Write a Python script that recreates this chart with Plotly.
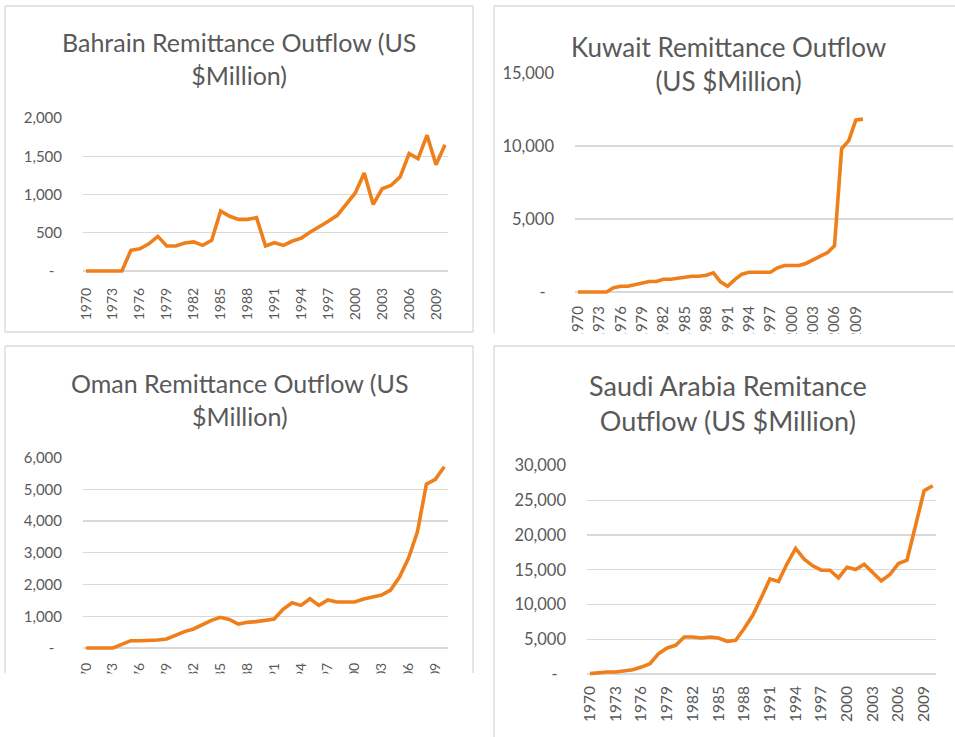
import plotly.graph_objects as go

W, H = 955, 737

years = list(range(1970, 2011))

bahrain = [0, 0, 0, 0, 0,
           270, 290, 355, 453, 327, 327, 365, 380, 335, 400,
           785, 715, 675, 675, 697, 327, 370, 335, 392, 430,
           510, 575, 650, 728, 870, 1020, 1280, 870, 1075, 1120,
           1230, 1535, 1470, 1775, 1390, 1650]

kuwait = [0, 0, 0, 0, 0,
          300, 390, 390, 505, 620, 715, 715, 875, 875, 945,
          1010, 1080, 1080, 1150, 1310, 700, 390, 850, 1220, 1355,
          1355, 1355, 1355, 1655, 1815, 1815, 1815, 1955, 2230, 2460,
          2690, 3170, 9815, 10370, 11790, 11840]

oman = [0, 0, 0, 0, 115,
        230, 230, 230, 250, 283, 400, 515, 600, 735, 870,
        965, 900, 755, 808, 830, 860, 913, 1218, 1427, 1343,
        1553, 1343, 1511, 1448, 1448, 1448, 1542, 1605, 1668, 1826,
        2235, 2823, 3662, 5163, 5310, 5708]

saudi = [50, 190, 290, 290, 430,
         620, 1000, 1490, 2930, 3750, 4130, 5330, 5330, 5190, 5330,
         5190, 4710, 4860, 6540, 8460, 11010, 13700, 13320, 15870, 18080,
         16540, 15580, 14950, 14950, 13850, 15380, 15050, 15820, 14660, 13410,
         14320, 15910, 16400, 21540, 26390, 27110]

x_tick_years = [1970, 1973, 1976, 1979, 1982, 1985, 1988, 1991, 1994, 1997, 2000, 2003, 2006, 2009]
x_tick_text = [str(y) for y in x_tick_years]

ZERO = "-\u00a0\u00a0"
bahrain_yticks = [0, 500, 1000, 1500, 2000]
bahrain_ytext = [ZERO, "500", "1,000", "1,500", "2,000"]
kuwait_yticks = [0, 5000, 10000, 15000]
kuwait_ytext = [ZERO, "5,000", "10,000", "15,000"]
oman_yticks = [0, 1000, 2000, 3000, 4000, 5000, 6000]
oman_ytext = [ZERO, "1,000", "2,000", "3,000", "4,000", "5,000", "6,000"]
saudi_yticks = [0, 5000, 10000, 15000, 20000, 25000, 30000]
saudi_ytext = [ZERO, "5,000", "10,000", "15,000", "20,000", "25,000", "30,000"]

titles = ["Bahrain Remittance Outflow (US<br>$Million)",
          "Kuwait Remittance Outflow<br>(US $Million)",
          "Oman Remittance Outflow (US<br>$Million)",
          "Saudi Arabia Remitance<br>Outflow (US $Million)"]

LINE = "#EE7F1B"
GRID = "#D9D9D9"
TXT = "#595959"
FONT = "Lato"


def fx(p):
    return p / W


def fy(p):
    return 1 - p / H


# panel geometry in pixels
panels = [
    dict(data=bahrain, yt=bahrain_yticks, ytt=bahrain_ytext, ymax=2000,
         xl=83, xr=448, d0=86, d1=445, y0=271, ytop=118, yfs=15, xfs=14, xso=9,
         title=titles[0], tx=239, ty=59, tfs=25),
    dict(data=kuwait, yt=kuwait_yticks, ytt=kuwait_ytext, ymax=15000,
         xl=575, xr=953, d0=578, d1=863, y0=292, ytop=73, yfs=16.5, xfs=15, xso=6,
         title=titles[1], tx=728, ty=63.5, tfs=26),
    dict(data=oman, yt=oman_yticks, ytt=oman_ytext, ymax=6000,
         xl=83, xr=448, d0=86, d1=444.3, y0=648, ytop=457.5, yfs=15, xfs=14, xso=7,
         title=titles[2], tx=239, ty=399, tfs=25),
    dict(data=saudi, yt=saudi_yticks, ytt=saudi_ytext, ymax=30000,
         xl=587, xr=936, d0=590, d1=932.7, y0=674, ytop=465.7, yfs=16.5, xfs=15.5, xso=4,
         title=titles[3], tx=728, ty=403, tfs=27),
]

fig = go.Figure()
layout = dict(
    template="none",
    width=W, height=H, autosize=False, margin=dict(l=0, r=0, t=0, b=0, pad=0),
    paper_bgcolor="white", plot_bgcolor="white", showlegend=False,
    font=dict(family=FONT, color=TXT),
)
annotations = []
PAD = 4
for i, p in enumerate(panels, start=1):
    sfx = "" if i == 1 else str(i)
    pxyr = (p["d1"] - p["d0"]) / 40.0
    xmin = 1970 - (p["d0"] - p["xl"]) / pxyr
    xmax = 1970 + (p["xr"] - p["d0"]) / pxyr
    vpp = p["ymax"] / (p["y0"] - p["ytop"])
    ymin = -PAD * vpp
    fig.add_trace(go.Scatter(x=years, y=p["data"], mode="lines",
                             line=dict(color=LINE, width=3.6),
                             xaxis="x" + sfx, yaxis="y" + sfx, hoverinfo="skip"))
    layout["xaxis" + sfx] = dict(
        domain=[fx(p["xl"]), fx(p["xr"])], range=[xmin, xmax], anchor="y" + sfx,
        tickmode="array", tickvals=x_tick_years, ticktext=x_tick_text,
        tickangle=-90, showgrid=False, zeroline=False, showline=False, automargin=False,
        ticks="", ticklabelstandoff=p["xso"], tickfont=dict(size=p["xfs"], color=TXT, family=FONT),
        fixedrange=True)
    layout["yaxis" + sfx] = dict(
        domain=[fy(p["y0"] + PAD), fy(p["ytop"])], range=[ymin, p["ymax"]], anchor="x" + sfx,
        tickmode="array", tickvals=p["yt"], ticktext=p["ytt"], automargin=False,
        showgrid=True, gridcolor=GRID, gridwidth=1.3, zeroline=False, showline=False,
        ticks="", ticklabelstandoff=20, tickfont=dict(size=p["yfs"], color=TXT, family=FONT),
        fixedrange=True)
    annotations.append(dict(text=p["title"], x=fx(p["tx"]), y=fy(p["ty"]),
                            xref="paper", yref="paper", xanchor="center", yanchor="middle",
                            showarrow=False, align="center",
                            font=dict(size=p["tfs"], color=TXT, family=FONT)))

layout["annotations"] = annotations


def hline(x0, x1, y):
    return dict(type="line", xref="paper", yref="paper", x0=fx(x0), x1=fx(x1), y0=fy(y), y1=fy(y),
                line=dict(color=GRID, width=1.3), layer="above")


def vline(x, y0, y1):
    return dict(type="line", xref="paper", yref="paper", x0=fx(x), x1=fx(x), y0=fy(y0), y1=fy(y1),
                line=dict(color=GRID, width=1.3), layer="above")


def mask(x0, y0, x1, y1):
    return dict(type="rect", xref="paper", yref="paper", x0=fx(x0), x1=fx(x1), y0=fy(y1), y1=fy(y0),
                fillcolor="white", line=dict(width=0), layer="above")


shapes = [
    # masks clipping the cropped screenshots
    mask(476, 333.5, 960, 345), mask(-5, 673.5, 478, 745),
    # Bahrain border
    hline(5, 473, 6), hline(5, 473, 332), vline(5, 6, 332), vline(473, 6, 332),
    # Kuwait border
    hline(494, 960, 6), vline(494, 6, 333),
    # Oman border
    hline(5, 473, 346), vline(5, 346, 673), vline(473, 346, 673),
    # Saudi border
    hline(494, 960, 346), vline(494, 346, 740),
]
layout["shapes"] = shapes
fig.update_layout(**layout)
fig.write_html("out.html", config={"responsive": False, "displayModeBar": False, "staticPlot": True},
               post_script="document.body.style.margin='0';document.body.style.overflow='hidden';")
